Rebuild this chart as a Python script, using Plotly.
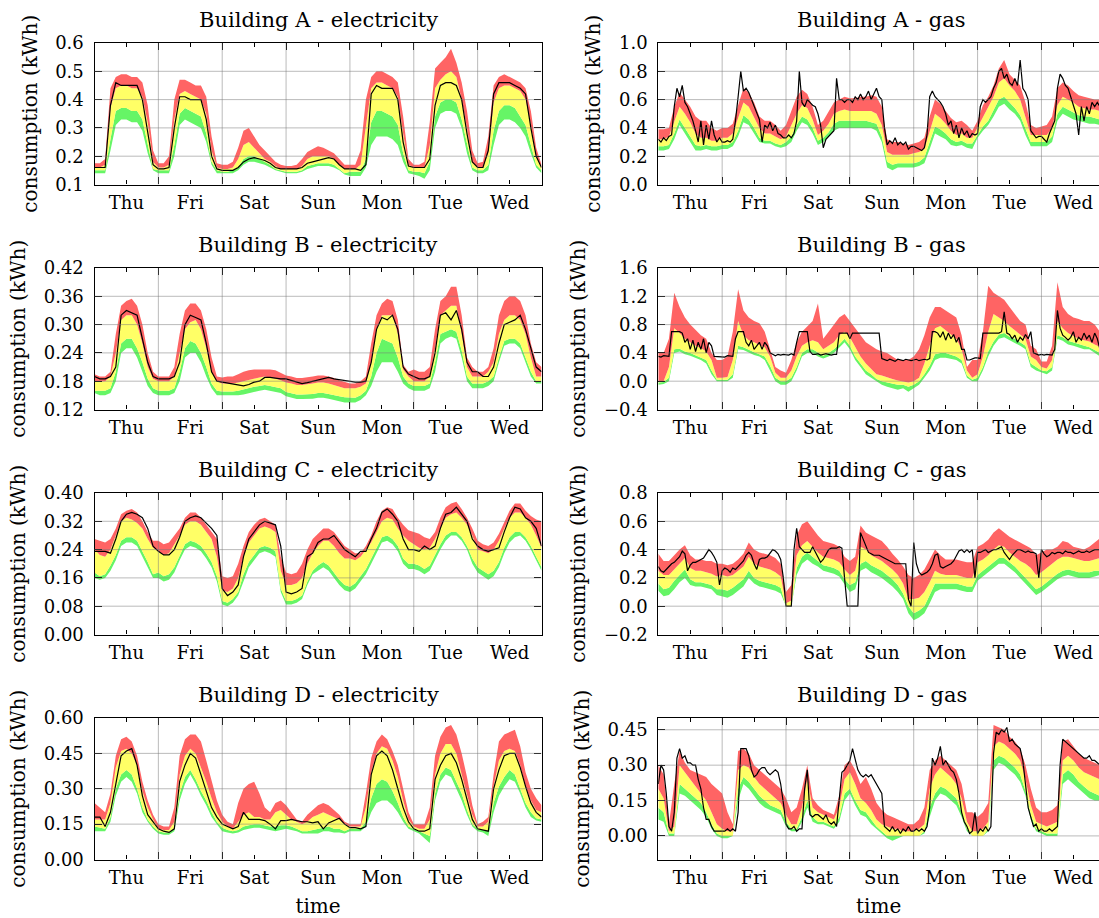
import plotly.graph_objects as go

W, H = 1099, 918
DAYS = ["Thu", "Fri", "Sat", "Sun", "Mon", "Tue", "Wed"]
DAY_TICKS = [0.5, 1.5, 2.5, 3.5, 4.5, 5.5, 6.5]
MIDNIGHTS = [0, 1, 2, 3, 4, 5, 6, 7]
T2 = [h / 24 for h in range(0, 169, 2)]   # 2-hourly time grid (days)
T1 = [h / 24 for h in range(0, 169)]      # hourly time grid (days)

# ---------------- Building A - electricity ----------------
A_EL_ACT = [
    .16, .16, .16, .38, .46, .45, .45, .45, .45, .40, .29, .17,
    .155, .155, .16, .30, .41, .41, .40, .40, .40, .33, .20, .155,
    .15, .15, .15, .16, .18, .19, .195, .19, .185, .175, .16, .155,
    .155, .155, .155, .16, .175, .18, .185, .19, .195, .19, .17, .155,
    .155, .155, .15, .17, .42, .45, .44, .44, .44, .40, .25, .165,
    .16, .16, .16, .19, .38, .45, .46, .46, .45, .40, .28, .18,
    .16, .16, .22, .42, .46, .46, .46, .45, .44, .42, .30, .20,
    .16]
A_EL_LO = [
    .14, .14, .14, .22, .31, .33, .33, .32, .32, .29, .21, .15,
    .14, .14, .14, .20, .31, .33, .32, .31, .30, .25, .17, .14,
    .14, .14, .14, .15, .17, .18, .18, .175, .17, .16, .15, .145,
    .14, .14, .14, .145, .155, .16, .165, .165, .165, .16, .15, .135,
    .13, .13, .13, .16, .24, .27, .27, .27, .26, .24, .18, .14,
    .135, .13, .12, .15, .30, .35, .36, .36, .35, .30, .21, .15,
    .14, .14, .15, .24, .31, .33, .33, .32, .30, .27, .21, .16,
    .14]
A_EL_Q1 = [
    .15, .15, .15, .26, .36, .37, .37, .36, .36, .33, .24, .155,
    .15, .15, .15, .24, .35, .37, .36, .35, .34, .28, .18, .15,
    .145, .145, .15, .16, .19, .20, .20, .19, .18, .17, .155, .15,
    .145, .145, .145, .15, .165, .17, .175, .175, .175, .17, .155, .14,
    .145, .145, .145, .19, .32, .36, .36, .35, .34, .31, .21, .15,
    .145, .145, .14, .18, .34, .39, .40, .40, .39, .33, .24, .16,
    .15, .15, .17, .29, .36, .38, .38, .37, .34, .31, .24, .17,
    .15]
A_EL_Q2 = [
    .16, .16, .17, .37, .44, .45, .45, .44, .44, .41, .32, .18,
    .16, .16, .17, .33, .42, .43, .42, .41, .40, .35, .22, .16,
    .155, .155, .16, .19, .24, .25, .23, .21, .19, .18, .165, .155,
    .155, .155, .155, .165, .19, .20, .20, .20, .20, .19, .17, .155,
    .155, .155, .17, .30, .44, .46, .46, .45, .44, .41, .28, .17,
    .16, .16, .16, .24, .44, .47, .49, .50, .48, .40, .30, .18,
    .16, .16, .21, .39, .44, .45, .45, .44, .43, .40, .31, .20,
    .16]
A_EL_HI = [
    .175, .175, .19, .44, .48, .49, .49, .48, .48, .46, .38, .22,
    .175, .175, .20, .40, .47, .47, .46, .45, .45, .41, .27, .175,
    .17, .17, .18, .23, .29, .30, .27, .24, .22, .20, .18, .17,
    .165, .165, .17, .19, .215, .225, .235, .23, .22, .21, .19, .17,
    .17, .17, .22, .40, .48, .50, .50, .49, .48, .46, .34, .19,
    .17, .17, .18, .32, .51, .53, .55, .58, .53, .46, .36, .22,
    .175, .18, .27, .45, .48, .49, .48, .47, .46, .44, .36, .23,
    .17]

# ---------------- Building A - gas (actual is hourly) ----------------
A_GAS_ACT = [
    .32, .30, .33, .31, .34, .35, .55, .68, .62, .70, .58, .55, .50, .45, .38, .30, .45, .28, .42, .32, .45, .35, .30, .33,
    .30, .30, .31, .30, .32, .45, .62, .80, .66, .68, .65, .60, .55, .50, .46, .30, .42, .40, .44, .38, .42, .36, .35, .33,
    .33, .35, .33, .36, .45, .80, .58, .55, .60, .58, .56, .55, .50, .42, .26, .32, .34, .36, .38, .75, .60, .60, .58, .60,
    .60, .58, .62, .60, .64, .60, .62, .66, .60, .64, .68, .62, .60, .40, .28, .31, .29, .33, .28, .30, .28, .30, .25, .27,
    .27, .26, .25, .24, .26, .35, .62, .66, .62, .60, .58, .55, .50, .42, .45, .36, .42, .33, .40, .35, .38, .33, .36, .35,
    .36, .55, .60, .58, .60, .62, .68, .72, .80, .82, .75, .78, .72, .70, .75, .70, .88, .68, .65, .60, .38, .35, .33, .34,
    .34, .32, .30, .36, .40, .45, .68, .78, .75, .70, .68, .62, .55, .50, .35, .55, .45, .55, .50, .58, .55, .58, .55, .58,
    .58]
A_GAS_LO = [
    .24, .24, .25, .32, .42, .36, .30, .24, .24, .25, .24, .24,
    .25, .25, .27, .34, .44, .42, .36, .30, .29, .29, .27, .26,
    .27, .30, .38, .44, .42, .36, .28, .30, .34, .38, .40, .40,
    .40, .40, .40, .40, .40, .38, .30, .12, .10, .12, .12, .12,
    .12, .13, .15, .25, .36, .34, .32, .28, .27, .28, .26, .25,
    .33, .38, .42, .48, .55, .57, .53, .50, .45, .35, .27, .27,
    .27, .27, .30, .45, .50, .48, .46, .45, .44, .43, .43, .42,
    .42]
A_GAS_Q1 = [
    .27, .27, .28, .36, .46, .40, .34, .28, .27, .28, .27, .27,
    .28, .28, .30, .38, .49, .46, .40, .33, .31, .31, .29, .28,
    .30, .34, .42, .48, .46, .40, .31, .33, .37, .43, .45, .45,
    .45, .45, .45, .45, .44, .43, .34, .16, .14, .15, .15, .15,
    .15, .16, .19, .30, .41, .39, .36, .32, .30, .31, .29, .29,
    .35, .41, .45, .52, .60, .62, .58, .54, .49, .39, .30, .30,
    .30, .30, .34, .50, .55, .53, .51, .49, .48, .48, .47, .46,
    .46]
A_GAS_Q2 = [
    .32, .32, .34, .44, .55, .50, .44, .36, .33, .33, .31, .31,
    .33, .33, .36, .47, .58, .55, .48, .40, .36, .36, .34, .32,
    .34, .42, .50, .56, .54, .46, .35, .38, .43, .50, .52, .53,
    .52, .52, .52, .52, .52, .50, .42, .23, .21, .21, .21, .21,
    .22, .23, .25, .38, .50, .47, .43, .38, .35, .36, .33, .33,
    .40, .48, .54, .62, .72, .75, .70, .66, .60, .48, .35, .35,
    .35, .35, .40, .56, .62, .60, .58, .55, .54, .53, .53, .52,
    .52]
A_GAS_HI = [
    .39, .39, .40, .55, .65, .60, .55, .48, .45, .45, .40, .38,
    .40, .40, .43, .56, .68, .65, .58, .48, .45, .45, .42, .38,
    .42, .52, .62, .67, .64, .55, .42, .45, .52, .58, .60, .62,
    .61, .61, .62, .62, .63, .62, .55, .32, .30, .30, .29, .28,
    .29, .30, .33, .48, .60, .57, .52, .47, .44, .45, .42, .38,
    .45, .56, .62, .70, .82, .88, .78, .74, .70, .58, .42, .40,
    .41, .42, .48, .68, .72, .70, .66, .63, .62, .61, .60, .60,
    .60]

# ---------------- Building B - electricity ----------------
B_EL_ACT = [
    .19, .185, .185, .19, .21, .32, .33, .325, .32, .27, .22, .19,
    .185, .185, .185, .19, .22, .30, .32, .315, .31, .26, .20, .18,
    .178, .177, .175, .173, .17, .173, .178, .18, .188, .188, .186, .185,
    .185, .182, .178, .175, .177, .18, .182, .185, .188, .185, .183, .182,
    .18, .178, .178, .18, .22, .29, .315, .31, .32, .29, .21, .195,
    .19, .185, .185, .19, .24, .32, .325, .31, .33, .29, .22, .20,
    .20, .19, .19, .21, .26, .30, .305, .31, .32, .29, .25, .21,
    .20]
B_EL_LO = [
    .155, .15, .15, .155, .18, .24, .25, .25, .23, .20, .17, .155,
    .15, .15, .15, .155, .18, .23, .24, .24, .22, .19, .165, .15,
    .15, .15, .15, .15, .152, .155, .158, .16, .162, .16, .158, .155,
    .148, .145, .142, .142, .142, .143, .145, .145, .143, .14, .137, .135,
    .135, .135, .14, .15, .17, .20, .22, .22, .22, .20, .175, .165,
    .16, .16, .16, .165, .20, .26, .27, .275, .27, .23, .18, .165,
    .165, .165, .17, .18, .22, .255, .26, .26, .25, .22, .19, .175,
    .175]
B_EL_Q1 = [
    .16, .16, .16, .165, .20, .26, .27, .27, .25, .22, .185, .165,
    .16, .16, .16, .165, .20, .25, .265, .26, .24, .21, .175, .16,
    .158, .158, .158, .16, .163, .165, .168, .17, .172, .17, .168, .165,
    .157, .155, .152, .152, .152, .153, .155, .155, .153, .15, .148, .146,
    .145, .145, .15, .16, .19, .24, .27, .265, .26, .23, .19, .175,
    .17, .17, .17, .175, .22, .28, .285, .29, .285, .245, .19, .175,
    .175, .175, .18, .19, .23, .265, .27, .27, .26, .23, .20, .18,
    .18]
B_EL_Q2 = [
    .18, .18, .18, .19, .24, .31, .32, .32, .30, .26, .21, .185,
    .18, .18, .18, .19, .24, .29, .305, .31, .29, .25, .20, .18,
    .175, .175, .175, .177, .18, .183, .186, .188, .19, .188, .185, .182,
    .177, .175, .172, .172, .173, .175, .177, .177, .175, .172, .168, .165,
    .165, .165, .168, .175, .22, .29, .32, .32, .32, .28, .205, .19,
    .18, .18, .18, .19, .25, .32, .33, .34, .34, .28, .21, .19,
    .19, .19, .20, .22, .28, .31, .32, .32, .31, .28, .23, .19,
    .19]
B_EL_HI = [
    .195, .19, .19, .20, .28, .34, .35, .355, .34, .30, .24, .20,
    .19, .19, .19, .21, .28, .33, .345, .345, .33, .29, .23, .19,
    .188, .19, .19, .195, .20, .203, .205, .205, .205, .205, .203, .198,
    .192, .19, .187, .187, .188, .19, .192, .192, .19, .187, .182, .178,
    .175, .175, .18, .19, .26, .32, .345, .355, .35, .31, .215, .20,
    .205, .20, .20, .21, .29, .35, .36, .38, .38, .32, .23, .21,
    .20, .20, .21, .25, .32, .35, .36, .36, .35, .32, .26, .22,
    .21]

# ---------------- Building B - gas (actual is hourly) ----------------
B_GAS_ACT = [
    .35, .34, .36, .35, .35, .70, .70, .70, .70, .68, .55, .60, .45, .58, .42, .55, .45, .60, .40, .55, .50, .35, .35, .34,
    .35, .34, .36, .35, .35, .60, .70, .70, .70, .55, .50, .58, .45, .50, .55, .45, .55, .50, .40, .38, .36, .38, .37, .38,
    .38, .37, .39, .37, .55, .70, .70, .70, .70, .42, .38, .38, .39, .37, .38, .39, .38, .37, .38, .38, .68, .68, .68, .68,
    .60, .68, .68, .68, .68, .68, .68, .68, .68, .68, .68, .68, .32, .30, .29, .31, .30, .28, .31, .30, .29, .31, .30, .29,
    .30, .31, .29, .30, .31, .30, .32, .70, .70, .68, .62, .70, .58, .68, .60, .66, .55, .62, .45, .45, .30, .30, .32, .33,
    .33, .32, .68, .68, .68, .68, .68, .68, .68, .70, .98, .68, .66, .60, .65, .55, .62, .58, .66, .60, .70, .40, .38, .37,
    .38, .37, .38, .38, .37, .45, 1.00, .75, .65, .62, .58, .62, .70, .55, .62, .58, .68, .60, .65, .55, .68, .60, .45, .42,
    .40]
B_GAS_LO = [
    -.05, -.04, .0, .40, .42, .38, .36, .33, .30, .25, .10, .0,
    .0, .0, .05, .45, .44, .40, .37, .35, .30, .15, .0, -.05,
    -.05, .0, .15, .35, .40, .40, .35, .32, .35, .40, .48, .55,
    .45, .30, .20, .10, .05, .0, -.05, -.08, -.10, -.12, -.10, -.15,
    -.10, -.05, .05, .15, .30, .33, .33, .32, .30, .25, .05, .0,
    .0, .15, .35, .50, .60, .62, .58, .55, .50, .45, .20, .15,
    .12, .10, .15, .60, .57, .52, .50, .48, .45, .45, .40, .35,
    .32]
B_GAS_Q1 = [
    -.02, -.01, .05, .45, .46, .42, .40, .37, .34, .30, .15, .02,
    .02, .02, .10, .50, .48, .44, .41, .38, .35, .22, .05, .0,
    .0, .05, .20, .40, .45, .45, .40, .36, .40, .45, .52, .60,
    .50, .35, .25, .15, .10, .03, .0, -.02, -.04, -.05, -.05, -.08,
    -.05, .0, .10, .22, .38, .40, .40, .38, .35, .30, .08, .02,
    .05, .20, .42, .56, .66, .68, .63, .60, .55, .50, .25, .20,
    .15, .14, .20, .65, .62, .57, .55, .52, .50, .48, .44, .40,
    .38]
B_GAS_Q2 = [
    .0, .0, .20, .75, .68, .60, .55, .50, .47, .42, .30, .05,
    .05, .06, .30, .85, .65, .58, .55, .52, .48, .35, .12, .05,
    .05, .15, .35, .50, .55, .58, .55, .45, .50, .55, .65, .70,
    .62, .48, .35, .25, .18, .10, .08, .05, .03, .01, .0, -.02,
    .0, .05, .25, .50, .75, .78, .72, .65, .60, .45, .15, .05,
    .10, .35, .70, .95, .90, .85, .78, .72, .65, .60, .35, .30,
    .20, .18, .30, .85, .75, .68, .64, .60, .58, .56, .52, .48,
    .45]
B_GAS_HI = [
    .40, .40, .60, 1.25, 1.05, .90, .80, .72, .65, .60, .40, .30,
    .30, .35, .70, 1.30, 1.00, .90, .85, .82, .70, .45, .20, .15,
    .12, .30, .55, .70, .78, .85, 1.10, .60, .70, .80, .90, .95,
    .85, .75, .65, .55, .50, .45, .42, .40, .35, .30, .30, .30,
    .35, .45, .65, .90, 1.05, 1.05, 1.00, .95, .90, .65, .20, .30,
    .30, .70, 1.35, 1.25, 1.20, 1.15, 1.05, .95, .85, .80, .50, .45,
    .28, .28, .50, 1.40, 1.05, .95, .90, .88, .85, .85, .80, .70,
    .65]

# ---------------- Building C - electricity ----------------
C_EL_ACT = [
    .235, .235, .235, .23, .27, .32, .34, .345, .34, .33, .30, .25,
    .235, .225, .225, .24, .275, .32, .33, .335, .33, .315, .30, .28,
    .13, .11, .12, .14, .22, .27, .29, .31, .32, .315, .31, .25,
    .12, .115, .12, .13, .22, .23, .26, .27, .27, .28, .26, .24,
    .23, .22, .235, .235, .27, .30, .345, .355, .34, .32, .27, .24,
    .24, .235, .25, .24, .25, .30, .34, .345, .36, .34, .32, .27,
    .25, .24, .235, .24, .245, .29, .33, .36, .355, .33, .32, .30,
    .25]
C_EL_LO = [
    .16, .155, .16, .18, .21, .25, .26, .26, .25, .22, .19, .16,
    .16, .15, .155, .175, .21, .24, .25, .245, .235, .215, .19, .15,
    .085, .08, .09, .11, .15, .19, .21, .23, .235, .23, .22, .12,
    .085, .085, .09, .10, .14, .17, .18, .19, .18, .16, .14, .125,
    .12, .13, .15, .17, .20, .23, .26, .265, .255, .235, .20, .185,
    .185, .18, .17, .18, .21, .24, .265, .28, .28, .265, .24, .20,
    .175, .165, .155, .165, .19, .23, .26, .275, .28, .265, .24, .21,
    .18]
C_EL_Q1 = [
    .175, .165, .17, .195, .225, .265, .275, .275, .265, .235, .205, .17,
    .175, .165, .17, .19, .225, .255, .265, .26, .25, .23, .205, .165,
    .095, .09, .10, .12, .17, .205, .225, .245, .25, .245, .235, .13,
    .095, .095, .10, .11, .15, .18, .195, .205, .195, .175, .155, .14,
    .135, .145, .165, .185, .215, .245, .275, .28, .27, .25, .215, .20,
    .20, .195, .185, .195, .225, .255, .28, .29, .29, .275, .25, .215,
    .19, .18, .17, .18, .205, .245, .275, .29, .29, .275, .25, .22,
    .19]
C_EL_Q2 = [
    .24, .225, .22, .24, .28, .32, .33, .325, .315, .30, .27, .245,
    .235, .225, .23, .255, .28, .31, .32, .32, .31, .29, .27, .22,
    .125, .12, .13, .16, .22, .26, .28, .30, .305, .30, .29, .18,
    .14, .14, .145, .16, .20, .23, .25, .265, .265, .25, .23, .215,
    .215, .21, .22, .24, .26, .29, .32, .33, .325, .30, .28, .265,
    .255, .245, .24, .245, .27, .30, .33, .34, .345, .33, .31, .28,
    .24, .235, .23, .24, .265, .30, .33, .345, .345, .33, .31, .28,
    .245]
C_EL_HI = [
    .27, .265, .26, .27, .30, .34, .35, .355, .345, .32, .29, .265,
    .265, .255, .26, .28, .30, .33, .345, .345, .33, .31, .29, .27,
    .165, .16, .165, .20, .25, .29, .31, .325, .33, .32, .31, .22,
    .175, .17, .175, .20, .24, .27, .285, .30, .30, .29, .27, .25,
    .24, .23, .23, .25, .28, .32, .35, .36, .355, .33, .31, .295,
    .29, .285, .275, .27, .29, .33, .36, .37, .375, .355, .33, .30,
    .265, .255, .25, .26, .285, .32, .35, .37, .37, .35, .335, .325,
    .32]

# ---------------- Building C - gas (actual is hourly) ----------------
C_GAS_ACT = [
    .28, .25, .24, .26, .28, .30, .31, .33, .35, .39, .37, .25, .29, .31, .31, .32, .33, .34, .37, .40, .38, .35, .31, .15,
    .25, .27, .26, .24, .27, .26, .28, .30, .32, .36, .38, .36, .30, .26, .33, .34, .34, .35, .38, .40, .39, .37, .33, .20,
    .0, .0, .0, .40, .55, .42, .40, .38, .38, .38, .42, .38, .34, .31, .33, .37, .40, .41, .41, .41, .42, .41, .20, .0,
    .0, .0, .0, .0, .52, .47, .42, .38, .37, .36, .36, .36, .35, .34, .33, .32, .31, .30, .30, .30, .30, .30, .05, .0,
    .45, .30, .24, .22, .23, .24, .26, .30, .36, .37, .28, .27, .28, .29, .30, .32, .35, .39, .40, .38, .40, .38, .40, .20,
    .38, .38, .39, .40, .38, .39, .40, .40, .41, .42, .38, .35, .33, .36, .38, .40, .40, .39, .38, .39, .38, .38, .37, .20,
    .40, .37, .35, .36, .38, .37, .38, .38, .37, .39, .38, .38, .37, .38, .39, .38, .38, .39, .38, .39, .40, .40, .40, .40,
    .40]
C_GAS_LO = [
    .11, .07, .08, .12, .17, .20, .15, .14, .14, .13, .12, .08,
    .07, .06, .08, .11, .14, .20, .16, .14, .13, .12, .11, .09,
    .0, .0, .22, .30, .33, .30, .28, .25, .24, .23, .21, .15,
    .10, .12, .25, .27, .24, .22, .20, .17, .14, .10, .05, -.05,
    -.10, -.08, -.05, .02, .10, .12, .12, .12, .12, .11, .10, .10,
    .18, .21, .24, .27, .30, .30, .27, .24, .20, .16, .12, .08,
    .10, .13, .16, .19, .21, .22, .21, .20, .20, .20, .21, .22,
    .22]
C_GAS_Q1 = [
    .16, .12, .13, .18, .22, .26, .19, .17, .17, .16, .15, .12,
    .12, .11, .13, .16, .19, .25, .20, .18, .17, .16, .15, .13,
    .0, .0, .27, .35, .38, .35, .32, .29, .28, .27, .25, .19,
    .15, .17, .30, .32, .29, .27, .25, .22, .19, .15, .09, .0,
    -.05, -.03, .0, .08, .16, .16, .16, .16, .16, .15, .14, .14,
    .22, .25, .28, .31, .34, .34, .31, .28, .24, .20, .16, .12,
    .14, .17, .20, .23, .25, .26, .25, .24, .24, .24, .25, .25,
    .25]
C_GAS_Q2 = [
    .25, .22, .22, .26, .30, .34, .27, .25, .25, .24, .23, .21,
    .22, .21, .22, .25, .28, .35, .30, .28, .27, .26, .24, .21,
    .02, .04, .36, .43, .46, .42, .38, .35, .34, .33, .31, .26,
    .22, .25, .42, .40, .36, .34, .32, .29, .26, .22, .16, .05,
    .05, .06, .10, .17, .25, .23, .22, .22, .22, .21, .20, .20,
    .31, .33, .36, .40, .43, .42, .38, .35, .32, .30, .27, .22,
    .24, .27, .30, .33, .35, .35, .34, .33, .32, .32, .33, .34,
    .34]
C_GAS_HI = [
    .37, .32, .32, .36, .40, .43, .36, .33, .33, .32, .32, .30,
    .30, .29, .30, .33, .37, .45, .40, .38, .37, .36, .34, .30,
    .10, .15, .50, .58, .60, .55, .50, .46, .45, .44, .42, .35,
    .32, .35, .57, .52, .50, .48, .46, .42, .37, .33, .28, .22,
    .20, .22, .26, .33, .40, .36, .33, .33, .33, .32, .31, .31,
    .42, .44, .47, .52, .55, .52, .49, .47, .45, .43, .41, .36,
    .38, .40, .40, .42, .46, .45, .42, .41, .40, .42, .45, .48,
    .50]

# ---------------- Building D - electricity ----------------
D_EL_ACT = [
    .18, .18, .14, .20, .32, .44, .46, .47, .40, .27, .19, .16,
    .13, .12, .115, .13, .33, .40, .45, .43, .36, .30, .22, .18,
    .15, .14, .13, .14, .20, .17, .17, .17, .165, .15, .13, .165,
    .165, .17, .165, .16, .16, .155, .16, .13, .155, .165, .175, .15,
    .135, .135, .13, .14, .36, .44, .46, .44, .38, .30, .22, .16,
    .13, .12, .12, .13, .34, .40, .44, .45, .41, .34, .25, .17,
    .13, .125, .12, .30, .38, .44, .45, .45, .39, .31, .24, .20,
    .18]
D_EL_LO = [
    .12, .12, .12, .16, .27, .33, .35, .33, .28, .20, .16, .13,
    .11, .105, .105, .12, .25, .32, .36, .32, .27, .23, .18, .15,
    .12, .115, .11, .115, .125, .13, .135, .135, .13, .125, .12, .125,
    .13, .125, .12, .11, .11, .11, .11, .12, .12, .115, .115, .11,
    .12, .12, .12, .14, .20, .24, .25, .25, .23, .20, .16, .13,
    .12, .11, .09, .07, .25, .33, .36, .35, .30, .25, .19, .14,
    .12, .115, .10, .20, .27, .31, .34, .33, .28, .22, .18, .165,
    .16]
D_EL_Q1 = [
    .14, .135, .13, .18, .30, .36, .38, .36, .30, .22, .17, .14,
    .12, .115, .115, .13, .28, .35, .38, .34, .29, .25, .20, .16,
    .135, .125, .12, .125, .14, .145, .15, .15, .145, .14, .14, .145,
    .145, .14, .13, .12, .12, .125, .13, .135, .14, .13, .13, .12,
    .13, .13, .13, .16, .26, .32, .34, .33, .29, .24, .18, .14,
    .13, .12, .11, .10, .28, .36, .39, .38, .33, .28, .21, .15,
    .13, .125, .12, .24, .31, .35, .38, .36, .30, .24, .20, .175,
    .17]
D_EL_Q2 = [
    .17, .17, .17, .24, .39, .46, .47, .45, .40, .29, .22, .17,
    .13, .125, .125, .16, .36, .44, .47, .45, .39, .33, .26, .20,
    .16, .14, .13, .16, .19, .20, .18, .18, .17, .17, .20, .21,
    .19, .17, .16, .15, .16, .18, .19, .20, .19, .18, .17, .15,
    .14, .14, .14, .22, .37, .45, .48, .47, .42, .35, .25, .17,
    .14, .13, .13, .17, .36, .45, .49, .49, .45, .36, .27, .19,
    .14, .14, .16, .31, .42, .46, .47, .46, .40, .31, .25, .21,
    .20]
D_EL_HI = [
    .24, .22, .20, .28, .44, .51, .52, .50, .44, .33, .25, .19,
    .15, .14, .14, .22, .44, .51, .53, .53, .50, .42, .33, .25,
    .19, .16, .15, .24, .30, .32, .33, .28, .22, .20, .24, .25,
    .23, .20, .17, .16, .19, .21, .23, .24, .23, .21, .19, .16,
    .15, .15, .15, .28, .43, .50, .53, .51, .46, .40, .30, .20,
    .15, .15, .15, .22, .44, .52, .56, .57, .53, .45, .35, .23,
    .15, .16, .18, .36, .50, .53, .54, .55, .48, .37, .30, .26,
    .23]

# ---------------- Building D - gas (actual is hourly) ----------------
D_GAS_ACT = [
    .22, .30, .28, .18, .04, .02, .10, .33, .37, .33, .34, .31, .31, .30, .30, .24, .20, .12, .07, .07, .04, .02, .02, .02,
    .02, .02, .03, .02, .03, .02, .10, .37, .37, .37, .34, .28, .25, .26, .28, .29, .29, .27, .26, .27, .28, .27, .22, .14,
    .05, .03, .03, .04, .02, .03, .03, .20, .28, .09, .08, .09, .09, .08, .07, .09, .06, .05, .06, .04, .15, .27, .28, .30,
    .32, .37, .33, .28, .26, .25, .26, .25, .26, .24, .22, .20, .18, .04, .03, .02, .04, .02, .03, .01, .03, .02, .04, .02,
    .02, .03, .02, .03, .02, .04, .12, .33, .30, .33, .38, .30, .32, .30, .28, .27, .24, .18, .10, .06, .04, .01, .02, .10,
    .01, .03, .02, .04, .02, .04, .35, .44, .43, .45, .44, .46, .40, .41, .39, .38, .37, .32, .22, .12, .08, .04, .05, .02,
    .03, .02, .02, .03, .02, .03, .04, .30, .41, .40, .39, .38, .37, .36, .35, .34, .33, .33, .34, .32, .32, .31, .30, .30,
    .30]
D_GAS_LO = [
    .07, .06, .0, .0, .18, .17, .15, .13, .11, .08, .03, .0,
    -.01, -.01, .0, .15, .22, .20, .17, .14, .12, .11, .10, .09,
    .04, .02, .02, .06, .12, .06, .05, .05, .04, .03, .06, .15,
    .18, .13, .09, .08, .05, .03, .01, -.01, -.02, -.01, .0, .0,
    .0, .0, .01, .08, .15, .18, .17, .15, .13, .08, .02, .0,
    .0, .0, .02, .28, .31, .30, .28, .26, .23, .17, .07, .02,
    .01, .0, .0, .0, .22, .24, .22, .20, .18, .16, .15, .15,
    .15]
D_GAS_Q1 = [
    .12, .10, .01, .01, .22, .20, .18, .16, .14, .10, .05, .01,
    .0, .0, .0, .20, .25, .23, .20, .17, .15, .13, .12, .11,
    .06, .03, .03, .08, .15, .08, .06, .06, .05, .04, .08, .18,
    .20, .15, .11, .10, .07, .04, .02, .0, .0, .0, .0, .0,
    .0, .0, .02, .12, .18, .21, .20, .18, .16, .10, .03, .0,
    .0, .0, .03, .32, .34, .33, .31, .29, .26, .19, .09, .03,
    .02, .01, .01, .01, .26, .28, .26, .23, .21, .19, .18, .17,
    .17]
D_GAS_Q2 = [
    .20, .16, .02, .04, .30, .27, .24, .21, .18, .15, .10, .05,
    .03, .02, .02, .28, .30, .29, .25, .22, .20, .18, .16, .14,
    .09, .05, .05, .12, .24, .12, .10, .09, .08, .07, .12, .24,
    .27, .22, .16, .14, .11, .07, .05, .04, .03, .03, .02, .02,
    .02, .03, .05, .20, .26, .29, .27, .25, .22, .16, .06, .02,
    .02, .03, .06, .38, .40, .39, .37, .35, .32, .24, .13, .06,
    .05, .04, .05, .06, .32, .34, .32, .29, .27, .26, .25, .24,
    .24]
D_GAS_HI = [
    .30, .26, .05, .22, .36, .31, .28, .27, .26, .25, .22, .20,
    .18, .10, .05, .36, .37, .35, .30, .28, .26, .24, .22, .20,
    .16, .10, .12, .20, .30, .16, .13, .11, .10, .09, .17, .30,
    .32, .28, .22, .25, .20, .14, .11, .09, .08, .07, .06, .05,
    .05, .07, .12, .28, .32, .34, .32, .30, .28, .22, .10, .10,
    .08, .10, .14, .47, .46, .45, .42, .40, .37, .30, .20, .12,
    .10, .10, .11, .13, .40, .41, .38, .35, .33, .32, .31, .30,
    .30]

# ---------------- y-axis ticks ----------------
A_EL_YT = [0.1, 0.2, 0.3, 0.4, 0.5, 0.6]
A_EL_YL = ["0.1", "0.2", "0.3", "0.4", "0.5", "0.6"]
A_GAS_YT = [0.0, 0.2, 0.4, 0.6, 0.8, 1.0]
A_GAS_YL = ["0.0", "0.2", "0.4", "0.6", "0.8", "1.0"]
B_EL_YT = [0.12, 0.18, 0.24, 0.30, 0.36, 0.42]
B_EL_YL = ["0.12", "0.18", "0.24", "0.30", "0.36", "0.42"]
B_GAS_YT = [-0.4, 0.0, 0.4, 0.8, 1.2, 1.6]
B_GAS_YL = ["\u22120.4", "0.0", "0.4", "0.8", "1.2", "1.6"]
C_EL_YT = [0.0, 0.08, 0.16, 0.24, 0.32, 0.40]
C_EL_YL = ["0.00", "0.08", "0.16", "0.24", "0.32", "0.40"]
C_GAS_YT = [-0.2, 0.0, 0.2, 0.4, 0.6, 0.8]
C_GAS_YL = ["\u22120.2", "0.0", "0.2", "0.4", "0.6", "0.8"]
D_EL_YT = [0.0, 0.15, 0.30, 0.45, 0.60]
D_EL_YL = ["0.00", "0.15", "0.30", "0.45", "0.60"]
D_GAS_YT = [0.0, 0.15, 0.30, 0.45]
D_GAS_YL = ["0.00", "0.15", "0.30", "0.45"]

# (title, actual, time grid of actual, lo, q1, q2, hi, y range, y ticks, y labels)
PANELS = [
    ("Building A - electricity", A_EL_ACT, T2, A_EL_LO, A_EL_Q1, A_EL_Q2, A_EL_HI, [0.1, 0.6], A_EL_YT, A_EL_YL),
    ("Building A - gas", A_GAS_ACT, T1, A_GAS_LO, A_GAS_Q1, A_GAS_Q2, A_GAS_HI, [0.0, 1.0], A_GAS_YT, A_GAS_YL),
    ("Building B - electricity", B_EL_ACT, T2, B_EL_LO, B_EL_Q1, B_EL_Q2, B_EL_HI, [0.12, 0.42], B_EL_YT, B_EL_YL),
    ("Building B - gas", B_GAS_ACT, T1, B_GAS_LO, B_GAS_Q1, B_GAS_Q2, B_GAS_HI, [-0.4, 1.6], B_GAS_YT, B_GAS_YL),
    ("Building C - electricity", C_EL_ACT, T2, C_EL_LO, C_EL_Q1, C_EL_Q2, C_EL_HI, [0.0, 0.40], C_EL_YT, C_EL_YL),
    ("Building C - gas", C_GAS_ACT, T1, C_GAS_LO, C_GAS_Q1, C_GAS_Q2, C_GAS_HI, [-0.2, 0.8], C_GAS_YT, C_GAS_YL),
    ("Building D - electricity", D_EL_ACT, T2, D_EL_LO, D_EL_Q1, D_EL_Q2, D_EL_HI, [0.0, 0.60], D_EL_YT, D_EL_YL),
    ("Building D - gas", D_GAS_ACT, T1, D_GAS_LO, D_GAS_Q1, D_GAS_Q2, D_GAS_HI, [-0.1, 0.5], D_GAS_YT, D_GAS_YL),
]

RED = "#ff6464"
YELLOW = "#ffff66"
GREEN = "#66f566"
GRID = "rgba(120,120,120,0.5)"
FONT = "DejaVu Serif"
FS_TICK = 18
FS_TITLE = 21
FS_LABEL = 20

# layout geometry in pixels
COL_X = [(94.5, 541.5), (658.3, 1099.0)]
COL_FULL_W = 447.0
X_RANGES = [[0, 7], [0, 7 * (1099.0 - 658.3) / COL_FULL_W]]
ROW_TOP = [43.0, 268.0, 493.0, 718.0]
ROW_H = 141.5

fig = go.Figure()
layout = dict(
    width=W, height=H, margin=dict(l=0, r=0, t=0, b=0, pad=0, autoexpand=False),
    paper_bgcolor="white", plot_bgcolor="white", showlegend=False,
    font=dict(family=FONT, size=FS_TICK, color="black"),
)
annotations = []
shapes = []

for i, (title, act, t_act, lo, q1, q2, hi, yr, yt, yl) in enumerate(PANELS):
    r, c = divmod(i, 2)
    s = "" if i == 0 else str(i + 1)
    xref, yref = "x" + s, "y" + s
    common = dict(xaxis=xref, yaxis=yref, mode="lines", hoverinfo="skip", showlegend=False)
    fig.add_trace(go.Scatter(x=T2, y=lo, line=dict(width=0, color=GREEN), **common))
    fig.add_trace(go.Scatter(x=T2, y=q1, line=dict(width=0, color=GREEN), fill="tonexty", fillcolor=GREEN, **common))
    fig.add_trace(go.Scatter(x=T2, y=q2, line=dict(width=0, color=YELLOW), fill="tonexty", fillcolor=YELLOW, **common))
    fig.add_trace(go.Scatter(x=T2, y=hi, line=dict(width=0, color=RED), fill="tonexty", fillcolor=RED, **common))
    fig.add_trace(go.Scatter(x=t_act, y=act, line=dict(width=1.2, color="black"), **common))

    x0, x1 = COL_X[c]
    top = ROW_TOP[r]
    bot = top + ROW_H
    xd = [x0 / W, x1 / W]
    yd = [1 - bot / H, 1 - top / H]

    # grid lines drawn over the quantile bands (as in the original figure)
    for v in yt:
        if v <= yr[0] + 1e-9 or v >= yr[1] - 1e-9:
            continue
        shapes.append(dict(type="line", xref=xref + " domain", yref=yref, x0=0, x1=1, y0=v, y1=v,
                           line=dict(color=GRID, width=1), layer="above"))
    for m in MIDNIGHTS[1:-1]:
        shapes.append(dict(type="line", xref=xref, yref=yref + " domain", x0=m, x1=m, y0=0, y1=1,
                           line=dict(color=GRID, width=1), layer="above"))

    layout["xaxis" + s] = dict(
        domain=xd, range=X_RANGES[c], anchor=yref, automargin=False,
        tickmode="array", tickvals=DAY_TICKS, ticktext=DAYS,
        ticks="inside", ticklen=4, tickwidth=1, tickcolor="black",
        showgrid=False, zeroline=False,
        showline=True, linecolor="black", linewidth=1.2, mirror="ticks",
        minor=dict(tickmode="array", tickvals=MIDNIGHTS, ticks="inside", ticklen=7,
                   tickwidth=1, tickcolor="black", showgrid=False),
        tickfont=dict(family=FONT, size=FS_TICK, color="black"),
        ticklabelstandoff=2,
        fixedrange=True,
    )
    if r == 3:
        layout["xaxis" + s]["title"] = dict(text="time", font=dict(family=FONT, size=FS_LABEL), standoff=13)
    layout["yaxis" + s] = dict(
        domain=yd, range=yr, anchor=xref, automargin=False,
        tickmode="array", tickvals=yt, ticktext=yl,
        ticks="inside", ticklen=7, tickwidth=1, tickcolor="black",
        showgrid=False, zeroline=False,
        showline=True, linecolor="black", linewidth=1.2,
        mirror="ticks" if c == 0 else False,
        tickfont=dict(family=FONT, size=FS_TICK, color="black"),
        ticklabelstandoff=6,
        title=dict(text="consumption (kWh)", font=dict(family=FONT, size=FS_LABEL), standoff=12),
        fixedrange=True,
    )
    cx = (x0 + COL_FULL_W / 2) / W
    annotations.append(dict(
        text=title, x=cx, y=yd[1], xref="paper", yref="paper", xanchor="center", yanchor="bottom",
        yshift=9, showarrow=False, font=dict(family=FONT, size=FS_TITLE, color="black"),
    ))

layout["annotations"] = annotations
layout["shapes"] = shapes
fig.update_layout(**layout)
fig.write_html("out.html")
